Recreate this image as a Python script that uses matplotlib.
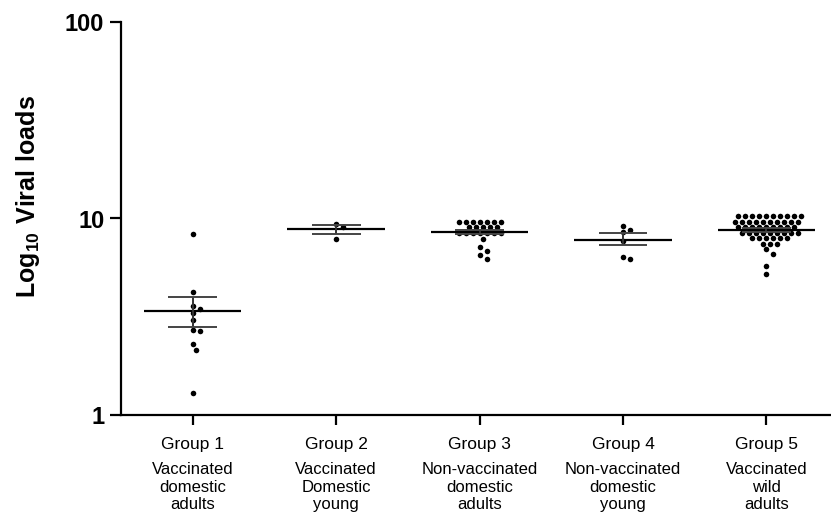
import numpy as np
import matplotlib
matplotlib.use("Agg")
import matplotlib.pyplot as plt

plt.rcParams['font.family'] = ['Liberation Sans', 'DejaVu Sans']
plt.rcParams['mathtext.fontset'] = 'custom'
plt.rcParams['mathtext.rm'] = 'Liberation Sans'
plt.rcParams['mathtext.bf'] = 'Liberation Sans:bold'

groups = ["Group 1", "Group 2", "Group 3", "Group 4", "Group 5"]
descs = ["Vaccinated\ndomestic\nadults",
         "Vaccinated\nDomestic\nyoung",
         "Non-vaccinated\ndomestic\nadults",
         "Non-vaccinated\ndomestic\nyoung",
         "Vaccinated\nwild\nadults"]

# viral loads
g1 = [8.3, 4.25, 3.6, 3.45, 3.3, 3.05, 2.7, 2.68, 2.3, 2.15, 1.29]
g2 = [9.4, 9.0, 7.9]
g3 = [9.6, 9.6, 9.6, 9.6, 9.6, 9.6, 9.6,
      9.0, 9.0, 9.0, 9.0, 9.0,
      8.45, 8.45, 8.45, 8.45, 8.45, 8.45, 8.45,
      7.9, 7.2, 6.85, 6.5, 6.2]
g4 = [9.2, 8.7, 8.5, 7.7, 6.4, 6.2]
g5 = [10.25, 10.25, 10.25, 10.25, 10.25, 10.25, 10.25, 10.25, 10.25, 10.25,
      9.6, 9.6, 9.6, 9.6, 9.6, 9.6, 9.6, 9.6, 9.6, 9.6,
      9.0, 9.0, 9.0, 9.0, 9.0, 9.0, 9.0, 9.0, 9.0,
      8.45, 8.45, 8.45, 8.45, 8.45, 8.45, 8.45, 8.45, 8.45,
      7.95, 7.95, 7.95, 7.95, 7.95, 7.95,
      7.45, 7.45, 7.45, 7.0, 6.6, 5.7, 5.2]
data = [g1, g2, g3, g4, g5]

means = [3.38, 8.8, 8.5, 7.8, 8.7]
err_lo = [2.82, 8.38, 8.3, 7.3, 8.5]
err_hi = [3.97, 9.3, 8.7, 8.4, 8.9]

fig = plt.figure(figsize=(8.31, 5.18), dpi=100)
ax = fig.add_axes([121 / 831, 103 / 518, 710 / 831, 393 / 518])
ax.set_yscale('log')
ax.set_ylim(1, 100)
ax.set_xlim(0.5, 5.45)


def swarm(vals, xc, d=7.0, gap=6.2):
    # simple beeswarm in pixel space, half-step offsets so rows interleave
    t = ax.transData
    ppu = t.transform((1, 1))[0] - t.transform((0, 1))[0]
    placed = []
    offs = []
    for v in vals:
        y = t.transform((xc, v))[1]
        for k in range(0, 80):
            dx = ((k + 1) // 2) * (d / 2) * (1 if k % 2 else -1)
            if all((dx - px) ** 2 + (y - py) ** 2 >= gap ** 2 for px, py in placed):
                break
        placed.append((dx, y))
        offs.append(xc + dx / ppu)
    return offs


for i, vals in enumerate(data):
    xc = i + 1
    xs = swarm(vals, xc)
    ax.scatter(xs, vals, s=16, color='black', zorder=3, linewidths=0)
    ax.hlines(means[i], xc - 0.34, xc + 0.34, color='black', lw=1.6, zorder=4)
    ax.vlines(xc, err_lo[i], err_hi[i], color='#333333', lw=1.4, zorder=4)
    ax.hlines([err_lo[i], err_hi[i]], xc - 0.17, xc + 0.17, color='#444444', lw=1.4, zorder=4)

ax.spines['top'].set_visible(False)
ax.spines['right'].set_visible(False)
ax.spines['left'].set_linewidth(1.6)
ax.spines['bottom'].set_linewidth(1.6)

ax.set_yticks([1, 10, 100])
ax.set_yticklabels(["1", "10", "100"], fontsize=17, fontweight='bold')
ax.yaxis.set_minor_locator(matplotlib.ticker.NullLocator())
ax.tick_params(axis='y', length=8, width=1.6, pad=4)

ax.set_xticks([1, 2, 3, 4, 5])
ax.set_xticklabels(groups, fontsize=12.5)
ax.tick_params(axis='x', length=7, width=1.6, pad=8.5)

for i, d in enumerate(descs):
    ax.annotate(d, xy=(i + 1, 0), xycoords=('data', 'axes fraction'),
                xytext=(0, -34), textcoords='offset points',
                ha='center', va='top', fontsize=12, linespacing=1.2)

fig.text(28 / 831, 1 - 197 / 518, r'$\mathbf{Log_{10}\ Viral\ loads}$',
         fontsize=18, rotation=90, ha='center', va='center')

fig.savefig("out.png", dpi=100)
